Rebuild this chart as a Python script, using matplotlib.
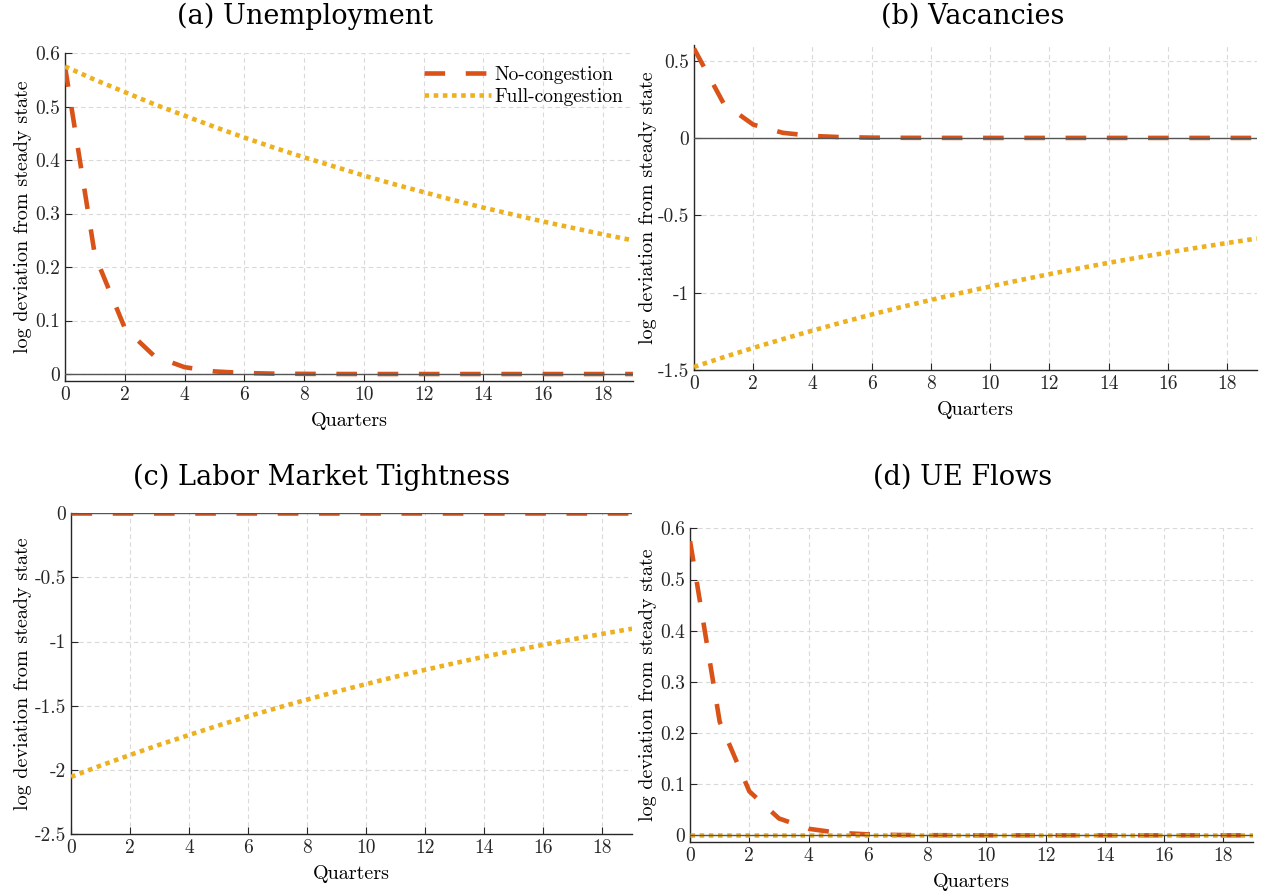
import numpy as np
import matplotlib
matplotlib.use("Agg")
import matplotlib.pyplot as plt
from matplotlib.ticker import FuncFormatter

plt.rcParams["font.family"] = ["cmr10", "DejaVu Serif"]
plt.rcParams["axes.unicode_minus"] = False
plt.rcParams["axes.formatter.use_mathtext"] = False

# 분기 (0 ~ 19)
quarters = list(range(20))

# (a) Unemployment
u_nocong = [0.575, 0.222, 0.086, 0.033, 0.0128, 0.0049, 0.0019, 0.0007, 0.0003, 0.0001,
            0, 0, 0, 0, 0, 0, 0, 0, 0, 0]
u_fullcong = [0.575, 0.550, 0.527, 0.504, 0.483, 0.462, 0.442, 0.423, 0.405, 0.388,
              0.371, 0.355, 0.340, 0.325, 0.311, 0.298, 0.285, 0.273, 0.261, 0.250]

# (b) Vacancies
v_nocong = [0.578, 0.223, 0.086, 0.033, 0.0128, 0.0049, 0.0019, 0.0007, 0.0003, 0.0001,
            0, 0, 0, 0, 0, 0, 0, 0, 0, 0]
v_fullcong = [-1.480, -1.417, -1.357, -1.300, -1.245, -1.192, -1.141, -1.093, -1.047, -1.002,
              -0.960, -0.919, -0.880, -0.843, -0.807, -0.773, -0.740, -0.709, -0.679, -0.650]

# (c) Labor market tightness
th_nocong = [0] * 20
th_fullcong = [-2.055, -1.967, -1.884, -1.804, -1.728, -1.654, -1.583, -1.516, -1.452, -1.390,
               -1.331, -1.274, -1.220, -1.168, -1.118, -1.071, -1.025, -0.982, -0.940, -0.900]

# (d) UE flows
ue_nocong = [0.575, 0.222, 0.086, 0.033, 0.0128, 0.0049, 0.0019, 0.0007, 0.0003, 0.0001,
             0, 0, 0, 0, 0, 0, 0, 0, 0, 0]
ue_fullcong = [0] * 20

RED = "#D95319"
YEL = "#EDB120"
AXC = "#262626"
W, H = 1262, 896

panels = [
    # title, no-cong, full-cong, ylim, yticks, axes rect (fig fraction),
    # title centre (px), ylabel centre x (px)
    ("(a) Unemployment", u_nocong, u_fullcong, (-0.013, 0.6),
     [0, 0.1, 0.2, 0.3, 0.4, 0.5, 0.6], [0.0515, 0.5748, 0.450, 0.366], (305, 16), 20),
    ("(b) Vacancies", v_nocong, v_fullcong, (-1.5, 0.6),
     [-1.5, -1, -0.5, 0, 0.5], [0.5499, 0.587, 0.446, 0.3627], (973, 16), 645),
    ("(c) Labor Market Tightness", th_nocong, th_fullcong, (-2.5, 0.0),
     [-2.5, -2, -1.5, -1, -0.5, 0], [0.0563, 0.0692, 0.4445, 0.358], (322, 477), 20),
    ("(d) UE Flows", ue_nocong, ue_fullcong, (-0.013, 0.6),
     [0, 0.1, 0.2, 0.3, 0.4, 0.5, 0.6], [0.5468, 0.0603, 0.446, 0.350], (963, 477), 645),
]

fig = plt.figure(figsize=(W / 100, H / 100), dpi=100)
fmt = FuncFormatter(lambda v, p: f"{v:g}")

for i, (title, nc, fc, ylim, yt, rect, tpos, ylx) in enumerate(panels):
    ax = fig.add_axes(rect)
    ax.plot(quarters, nc, color=RED, lw=3.3, dashes=(4.5, 4.5),
            dash_capstyle="butt", label="No-congestion", zorder=3)
    ax.plot(quarters, fc, color=YEL, lw=3.3, dashes=(1, 1),
            dash_capstyle="butt", label="Full-congestion", zorder=3)
    ax.axhline(0, color="#555555", lw=1.0, zorder=4)

    ax.set_xlim(0, 19)
    ax.set_ylim(*ylim)
    ax.set_xticks(range(0, 19, 2))
    ax.set_yticks(yt)
    ax.yaxis.set_major_formatter(fmt)
    ax.grid(True, color="#d9d9d9", ls=(0, (4, 3)), lw=0.8)
    ax.set_axisbelow(True)
    for s in ("top", "right"):
        ax.spines[s].set_visible(False)
    for s in ("left", "bottom"):
        ax.spines[s].set_color(AXC)
        ax.spines[s].set_linewidth(1.0)
    ax.tick_params(direction="in", length=5, width=0.8, colors=AXC,
                   labelsize=14, labelcolor="#262626")
    ax.set_xlabel("Quarters", fontsize=14.5, labelpad=6)
    ax.set_ylabel("log deviation from steady state", fontsize=14.5)
    # y 라벨 위치를 픽셀 기준으로 고정 (+12 px: 회전된 라벨의 기준점 보정)
    ax.yaxis.set_label_coords((ylx + 12 - rect[0] * W) / (rect[2] * W), 0.5)

    # MATLAB 식 제목: 축이 아니라 figure 의 고정 위치
    fig.text(tpos[0] / W, 1 - tpos[1] / H, title, fontsize=19.5,
             family="DejaVu Serif", ha="center", va="center")

    if i == 0:
        ax.legend(loc="upper right", frameon=False, fontsize=14,
                  handlelength=3.4, handletextpad=0.2, borderaxespad=0.1,
                  labelspacing=0.2, bbox_to_anchor=(1.0, 0.99))

fig.savefig("out.png", dpi=100)
